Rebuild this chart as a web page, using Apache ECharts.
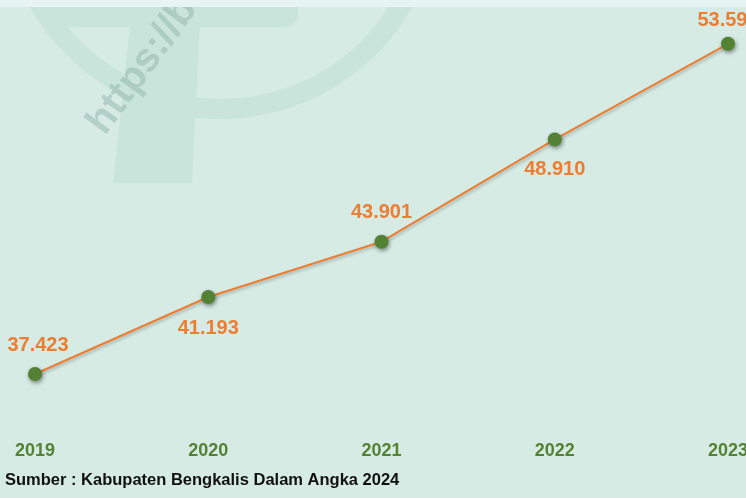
<!DOCTYPE html>
<html>
<head>
<meta charset="utf-8">
<script src="https://cdn.jsdelivr.net/npm/echarts@6/dist/echarts.min.js"></script>
<style>
  html, body { margin: 0; padding: 0; background: #d6ebe4; }
  #chart { width: 746px; height: 498px; }
</style>
</head>
<body>
<div id="chart"></div>
<script>
var years = ['2019', '2020', '2021', '2022', '2023'];
var values = [37.423, 41.193, 43.901, 48.910, 53.590];
var labelSide = ['top', 'bottom', 'top', 'bottom', 'top'];
var labelGap = [12, 14, 12, 13, 6];

var myChart = echarts.init(document.getElementById('chart'));

var seriesData = [];
for (var i = 0; i < values.length; i++) {
  seriesData.push({
    value: values[i],
    label: {
      position: labelSide[i],
      distance: labelGap[i],
      offset: i === 0 ? [3, 0] : [0, 0]
    }
  });
}

var wm = '#c9e4da';

var option = {
  backgroundColor: '#d6ebe4',
  animation: false,
  graphic: [
    // faint watermark
    { type: 'sector', silent: true, z: -10,
      shape: { cx: 221, cy: -100, r: 219, r0: 199, startAngle: 0, endAngle: Math.PI },
      style: { fill: wm } },
    { type: 'polygon', silent: true, z: -10,
      shape: { points: [[130, 26], [200, 26], [192, 183], [113, 183]] },
      style: { fill: wm } },
    { type: 'rect', silent: true, z: -10,
      shape: { x: 50, y: 0, width: 248, height: 27, r: [0, 0, 12, 0] },
      style: { fill: wm } },
    { type: 'text', silent: true, z: -9, x: 80, y: 118, rotation: Math.PI * 0.3,
      style: { text: 'https://bengkaliskab.bps.go.id', fill: 'rgba(150,185,175,0.55)',
               font: 'bold 40px "Liberation Sans"' } },
    // top light strip
    { type: 'rect', silent: true, z: -8,
      shape: { x: 0, y: 0, width: 746, height: 7 },
      style: { fill: '#e8f4f4' } },
    // source note
    { type: 'text', left: 5, top: 472,
      style: { text: 'Sumber : Kabupaten Bengkalis Dalam Angka 2024', fill: '#111',
               font: 'bold 16.5px "Liberation Sans"' } }
  ],
  grid: { left: 35, right: 18, top: 15, bottom: 74.5, outerBoundsMode: 'none' },
  xAxis: {
    type: 'category',
    data: years,
    boundaryGap: false,
    axisLine: { show: false },
    axisTick: { show: false },
    axisLabel: {
      margin: 19,
      color: '#548235',
      fontSize: 18,
      fontWeight: 'bold',
      fontFamily: 'Liberation Sans'
    }
  },
  yAxis: {
    type: 'value',
    min: 35,
    max: 55,
    show: false,
    splitLine: { show: false }
  },
  series: [{
    type: 'line',
    data: seriesData,
    symbol: 'circle',
    symbolSize: 14,
    lineStyle: {
      color: '#ed7d31',
      width: 2,
      shadowColor: 'rgba(0,0,0,0.25)',
      shadowBlur: 3,
      shadowOffsetX: 1,
      shadowOffsetY: 2
    },
    itemStyle: {
      color: '#548235',
      shadowColor: 'rgba(0,0,0,0.45)',
      shadowBlur: 4,
      shadowOffsetX: 1,
      shadowOffsetY: 2
    },
    label: {
      show: true,
      color: '#ed7d31',
      fontSize: 20,
      fontWeight: 'bold',
      fontFamily: 'Liberation Sans',
      formatter: function (p) { return p.value.toFixed(3); }
    }
  }]
};

myChart.setOption(option);
</script>
</body>
</html>
